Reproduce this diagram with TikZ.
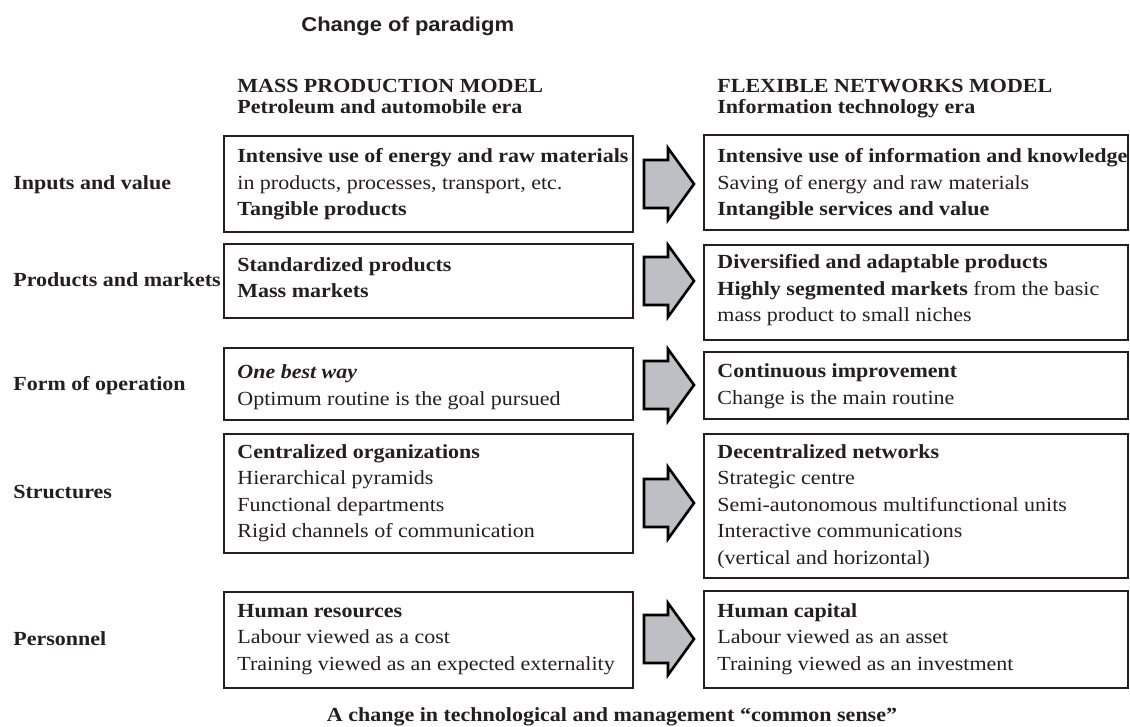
\documentclass[tikz,border=0pt]{standalone}
\usepackage{fontspec}
\setmainfont{Liberation Serif}[FakeStretch=1.1]
\setsansfont{Liberation Sans}[FakeStretch=1.1]
\usetikzlibrary{calc}
\definecolor{arrowgray}{RGB}{190,191,196}
\definecolor{ink}{RGB}{35,31,32}
\tikzset{
  box/.style={draw=ink, line width=0.8pt, anchor=north west, inner sep=0pt, outer sep=0pt},
  txt/.style={anchor=base west, inner sep=0pt, text=ink, font=\fontsize{10}{13.25}\selectfont},
  hdr/.style={anchor=base west, inner sep=0pt, text=ink, font=\fontsize{10}{10.5}\selectfont\bfseries},
  rowlabel/.style={anchor=base west, inner sep=0pt, text=ink, font=\fontsize{10}{12}\selectfont\bfseries},
  blockarrow/.style={draw=black, line width=1.3pt, fill=arrowgray, line join=miter},
}
\newcommand\blockarr[1]{\draw[blockarrow] ($(#1)+(0,-24)$) -- ++(24,0) -- ++(0,-12) -- ++(26,36) -- ++(-26,36) -- ++(0,-12) -- ++(-24,0) -- cycle;}
\newcommand\lines[1]{\begin{tabular}[t]{@{}l@{}}#1\end{tabular}}
\begin{document}
\begin{tikzpicture}[x=0.5pt,y=-0.5pt]
\useasboundingbox (0,0) rectangle (1130,727);
\fill[white] (0,0) rectangle (1130,727);

% title and headers
\node[anchor=base west, inner sep=0pt, text=ink, font=\fontsize{10}{12}\selectfont\sffamily\bfseries] (title) at (301,32) {Change of paradigm};
\node[hdr] (hL) at (237,93) {\lines{MASS PRODUCTION MODEL\\Petroleum and automobile era}};
\node[hdr] (hR) at (717,93) {\lines{FLEXIBLE NETWORKS MODEL\\Information technology era}};

% row labels
\node[rowlabel] (r1) at (13,190) {Inputs and value};
\node[rowlabel] (r2) at (13,287) {Products and markets};
\node[rowlabel] (r3) at (13,390) {Form of operation};
\node[rowlabel] (r4) at (13,498) {Structures};
\node[rowlabel] (r5) at (13,645) {Personnel};

% boxes
\node[box, minimum width=204.5pt, minimum height=48pt]   (L1) at (224,136) {};
\node[box, minimum width=212pt,   minimum height=47.5pt] (R1) at (704,135) {};
\node[box, minimum width=204.5pt, minimum height=37pt]   (L2) at (224,244) {};
\node[box, minimum width=212pt,   minimum height=47.5pt] (R2) at (704,245) {};
\node[box, minimum width=204.5pt, minimum height=36pt]   (L3) at (224,348) {};
\node[box, minimum width=212pt,   minimum height=33.5pt] (R3) at (704,352) {};
\node[box, minimum width=204.5pt, minimum height=59.5pt] (L4) at (224,434) {};
\node[box, minimum width=212pt,   minimum height=72pt]   (R4) at (704,434) {};
\node[box, minimum width=204.5pt, minimum height=48pt]   (L5) at (224,592) {};
\node[box, minimum width=212pt,   minimum height=48.5pt] (R5) at (704,591) {};

% box texts
\node[txt] (tL1) at ($(L1.north west)+(13,27)$) {\lines{\textbf{Intensive use of energy and raw materials}\\in products, processes, transport, etc.\\\textbf{Tangible products}}};
\node[txt] (tR1) at ($(R1.north west)+(13,28)$) {\lines{\textbf{Intensive use of information and knowledge}\\Saving of energy and raw materials\\\textbf{Intangible services and value}}};
\node[txt] (tL2) at ($(L2.north west)+(13,27)$) {\lines{\textbf{Standardized products}\\\textbf{Mass markets}}};
\node[txt] (tR2) at ($(R2.north west)+(13,24)$) {\lines{\textbf{Diversified and adaptable products}\\\textbf{Highly segmented markets} from the basic\\mass product to small niches}};
\node[txt] (tL3) at ($(L3.north west)+(13,31)$) {\lines{\textbf{\itshape One best way}\\Optimum routine is the goal pursued}};
\node[txt] (tR3) at ($(R3.north west)+(13,26)$) {\lines{\textbf{Continuous improvement}\\Change is the main routine}};
\node[txt] (tL4) at ($(L4.north west)+(13,24)$) {\lines{\textbf{Centralized organizations}\\Hierarchical pyramids\\Functional departments\\Rigid channels of communication}};
\node[txt] (tR4) at ($(R4.north west)+(13,24)$) {\lines{\textbf{Decentralized networks}\\Strategic centre\\Semi-autonomous multifunctional units\\Interactive communications\\(vertical and horizontal)}};
\node[txt] (tL5) at ($(L5.north west)+(13,25)$) {\lines{\textbf{Human resources}\\Labour viewed as a cost\\Training viewed as an expected externality}};
\node[txt] (tR5) at ($(R5.north west)+(13,26)$) {\lines{\textbf{Human capital}\\Labour viewed as an asset\\Training viewed as an investment}};

% block arrows
\coordinate (A1) at (644,184);
\coordinate (A2) at (644,281);
\coordinate (A3) at (644,385);
\coordinate (A4) at (644,503);
\coordinate (A5) at (644,639);
\blockarr{A1}
\blockarr{A2}
\blockarr{A3}
\blockarr{A4}
\blockarr{A5}

% caption
\node[anchor=base, inner sep=0pt, text=ink, font=\fontsize{10}{12}\selectfont\bfseries] (cap) at (612,721) {A change in technological and management “common sense”};
\end{tikzpicture}
\end{document}
